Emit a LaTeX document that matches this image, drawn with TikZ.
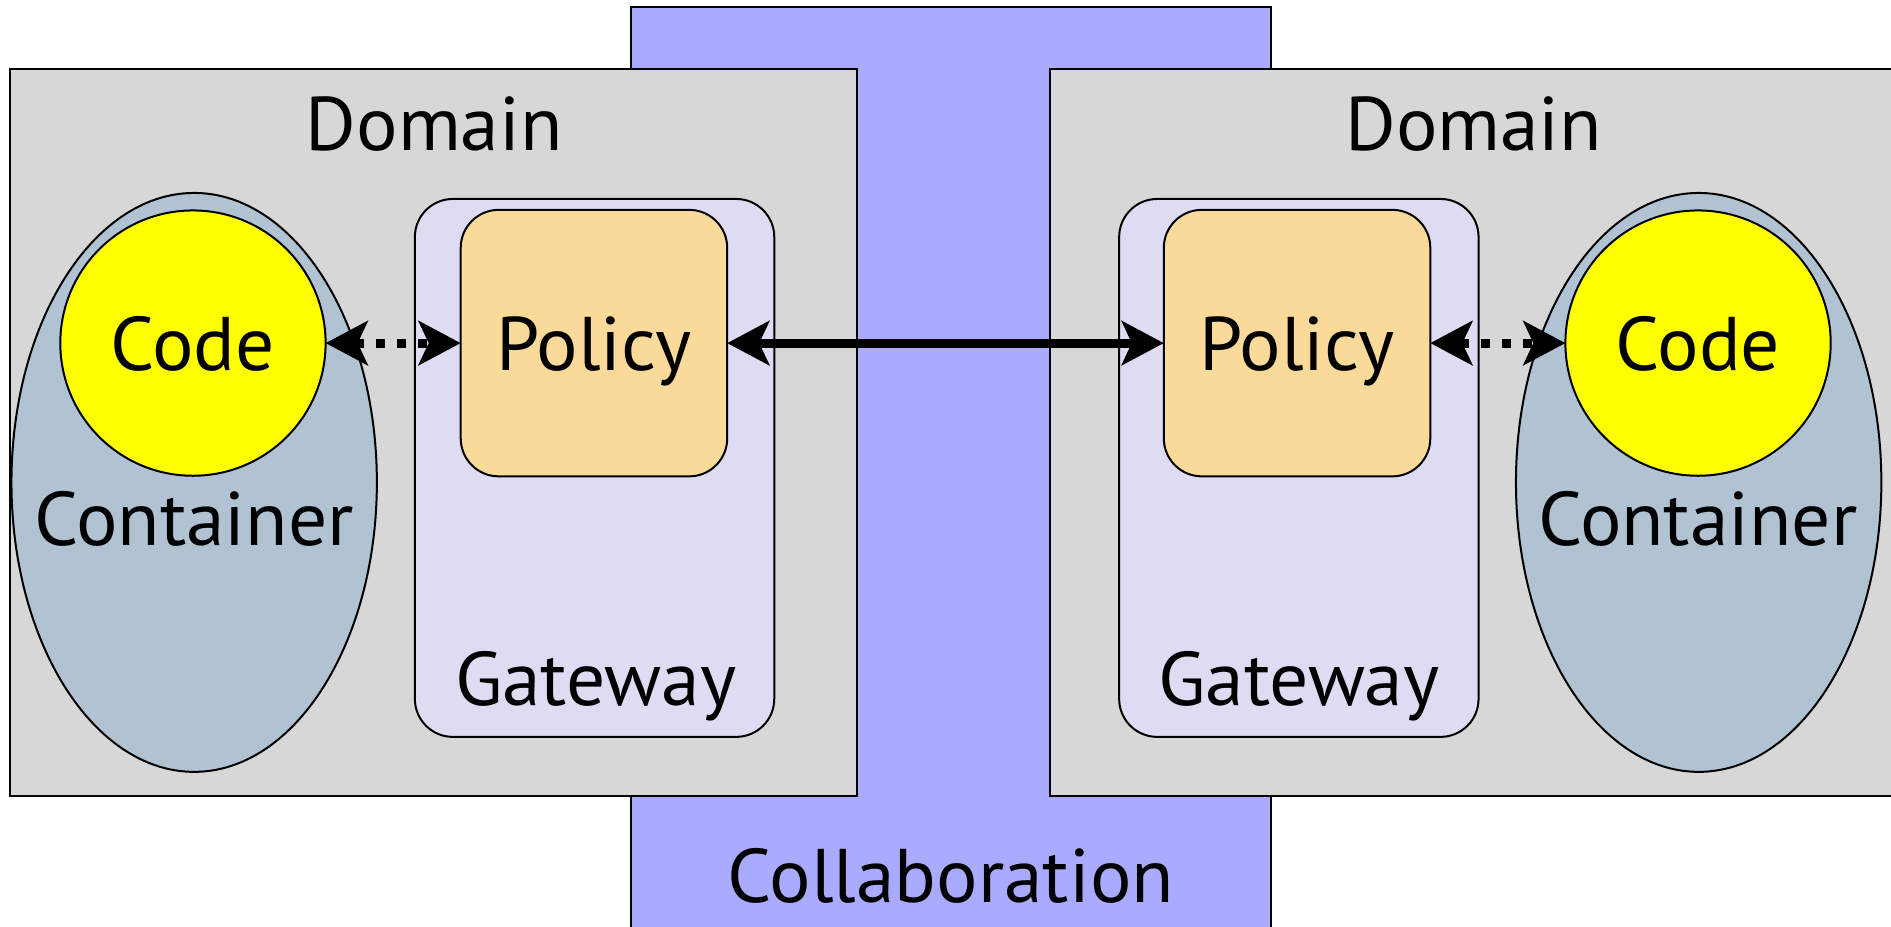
\documentclass[tikz,border=0pt]{standalone}
\usepackage{fontspec}
\setmainfont[FakeStretch=1.02]{PT Sans}
\usetikzlibrary{arrows.meta,shapes.geometric}

\definecolor{domaingray}{HTML}{D7D7D7}
\definecolor{collabblue}{HTML}{AAAAFF}
\definecolor{containerblue}{HTML}{B1C3D3}
\definecolor{gatewaylilac}{HTML}{DEDCF3}
\definecolor{policyorange}{HTML}{F9DA98}
\definecolor{codeyellow}{HTML}{FFFF00}

\tikzset{
  outline/.style={draw=black, line width=2pt},
  lbl/.style={font=\fontsize{76}{76}\selectfont, inner sep=0pt, anchor=base},
  boxlbl/.style={font=\fontsize{76}{76}\selectfont, text height=55pt, text depth=0pt},
  domainbox/.style={outline, fill=domaingray, rectangle, minimum height=727.2pt},
  collabbox/.style={outline, fill=collabblue, rectangle, minimum width=640.4pt, minimum height=957.6pt},
  containershape/.style={outline, fill=containerblue, ellipse, minimum width=365.4pt, minimum height=578.9pt},
  codeshape/.style={outline, fill=codeyellow, circle, minimum size=265.3pt, boxlbl},
  gatewaybox/.style={outline, fill=gatewaylilac, rectangle, rounded corners=38pt, minimum width=359.4pt, minimum height=537.9pt},
  policybox/.style={outline, fill=policyorange, rectangle, rounded corners=38pt, minimum size=266.5pt, boxlbl},
  dotlink/.style={line width=9pt, dash pattern=on 9pt off 12pt, {Stealth[length=42pt,width=44pt,inset=10pt]}-{Stealth[length=42pt,width=44pt,inset=10pt]}, shorten <=-1pt, shorten >=-1pt},
  solidlink/.style={line width=9pt, {Stealth[length=42pt,width=44pt,inset=10pt]}-{Stealth[length=42pt,width=44pt,inset=10pt]}, shorten <=-1pt, shorten >=-1pt},
}

\begin{document}
\begin{tikzpicture}[x={(1.206pt,0)}, y={(0,-1.206pt)}]
\useasboundingbox (0,0) rectangle (1568,768);
\clip (0,0) rectangle (1568,768);

% shared collaboration space behind both domains
\node[collabbox] (collab) at (788.5,403) {};

% the two domains
\node[domainbox, minimum width=847.8pt] (domL) at (359.5,358.5) {};
\node[domainbox, minimum width=879.2pt] (domR) at (1235.5,358.5) {};
\node[lbl] (domLlbl) at (360,125) {Domain};
\node[lbl] (domRlbl) at (1222,125) {Domain};

% containers holding the code
\node[containershape] (contL) at (161,400) {};
\node[containershape] (contR) at (1408.5,400) {};
\node[codeshape] (codeL) at (160,284.5) {Code};
\node[codeshape] (codeR) at (1408,284.5) {Code};
\node[lbl] (contLlbl) at (161,452) {Container};
\node[lbl] (contRlbl) at (1408,452) {Container};

% gateways with their policies
\node[gatewaybox] (gwL) at (493,388) {};
\node[gatewaybox] (gwR) at (1077,388) {};
\node[policybox] (polL) at (492.5,284.5) {Policy};
\node[policybox] (polR) at (1075.5,284.5) {Policy};
\node[lbl] (gwLlbl) at (494,585) {Gateway};
\node[lbl] (gwRlbl) at (1077,585) {Gateway};

\node[lbl] (collablbl) at (788.5,748) {Collaboration};

% links
\draw[dotlink] (codeL.east) -- (polL.west);
\draw[dotlink] (polR.east) -- (codeR.west);
\draw[solidlink] (polL.east) -- (polR.west);
\end{tikzpicture}
\end{document}
